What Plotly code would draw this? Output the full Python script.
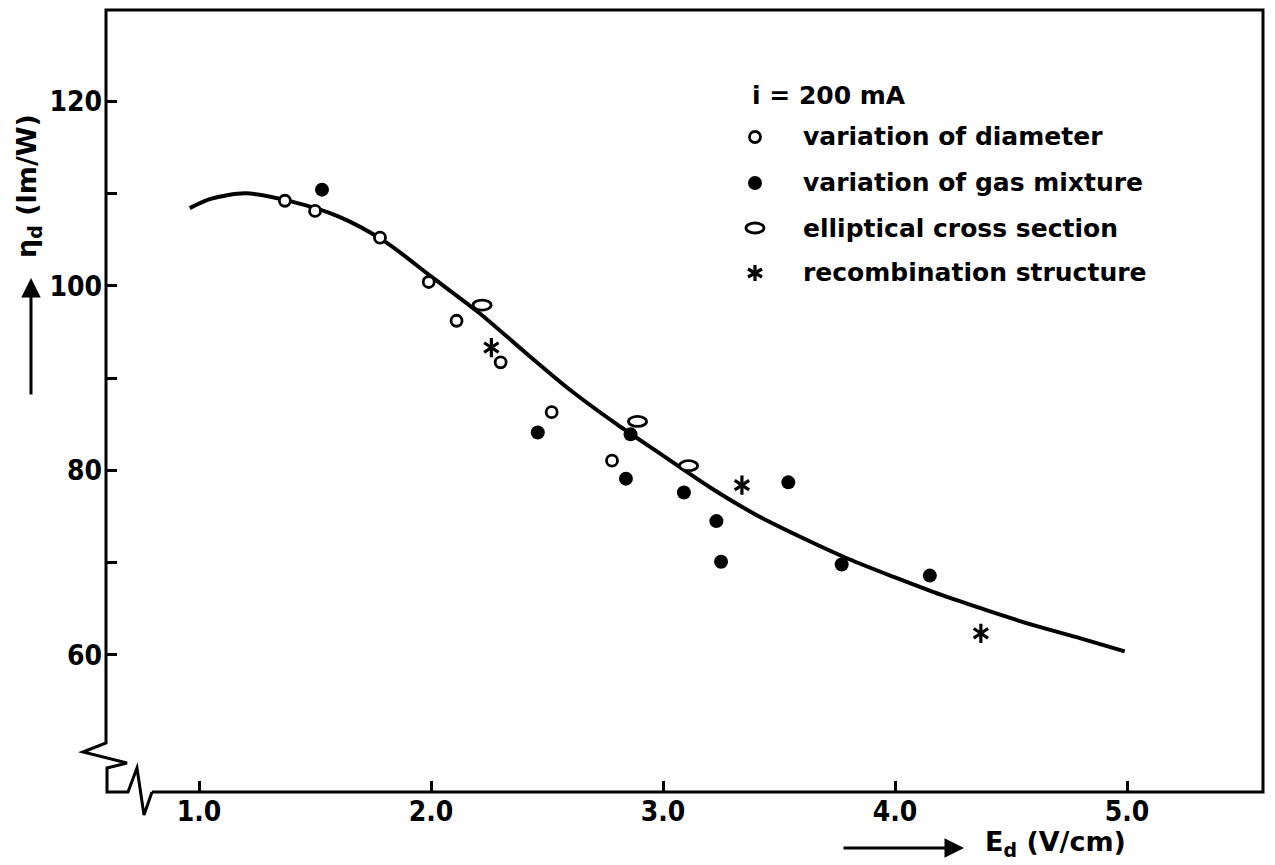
import plotly.graph_objects as go

# ---------------- data ----------------
curve_x = [0.96, 1.05, 1.20, 1.40, 1.60, 1.80, 2.00, 2.20, 2.40, 2.60, 2.80, 3.00, 3.20, 3.40,
           3.60, 3.80, 4.00, 4.20, 4.40, 4.60, 4.80, 4.99]
curve_y = [108.4, 109.4, 110.0, 109.1, 107.5, 104.8, 101.0, 97.2, 92.9, 88.7, 85.0, 81.6, 78.2, 75.2,
           72.7, 70.4, 68.4, 66.5, 64.8, 63.2, 61.8, 60.4]

diam_x = [1.37, 1.50, 1.78, 1.99, 2.11, 2.30, 2.52, 2.78]
diam_y = [109.2, 108.1, 105.2, 100.4, 96.2, 91.7, 86.3, 81.05]

gas_x = [1.53, 2.46, 2.86, 2.84, 3.09, 3.23, 3.25, 3.54, 3.77, 4.15]
gas_y = [110.4, 84.1, 83.9, 79.1, 77.6, 74.5, 70.1, 78.7, 69.8, 68.6]

ell_x = [2.22, 2.89, 3.11]
ell_y = [97.9, 85.3, 80.5]

rec_x = [2.26, 3.34, 4.37]
rec_y = [93.3, 78.4, 62.35]

x_ticks = [1, 2, 3, 4, 5]
x_ticktext = ["1.0", "2.0", "3.0", "4.0", "5.0"]
y_ticks = [60, 70, 80, 90, 100, 110, 120]
y_ticktext = ["60", "", "80", "", "100", "", "120"]

legend_title = "i = 200 mA"
legend_labels = ["variation of diameter", "variation of gas mixture",
                 "elliptical cross section", "recombination structure"]

X_RANGE = [0.599, 5.586]
Y_RANGE = [45.16, 129.86]

# ---------------- layout geometry (pixels, reference-page coords) ----------------
W, H = 1275, 865
OFF = 8                            # page body margin
L, R, T, B = 106, 1263, 10, 792   # plot area edges in px
PW, PH = R - L, B - T


def px(x):
    return (x - L) / PW


def py(y):
    return (B - y) / PH


TEXT_FONT = "DejaVu Sans"
TICK_FONT = "Liberation Sans Narrow, DejaVu Sans Condensed, DejaVu Sans"

fig = go.Figure()

fig.add_trace(go.Scatter(x=curve_x, y=curve_y, mode="lines",
                         line=dict(color="black", width=4, shape="spline", smoothing=0.8),
                         hoverinfo="skip", showlegend=False))

fig.add_trace(go.Scatter(x=gas_x, y=gas_y, mode="markers",
                         marker=dict(symbol="circle", size=14, color="black",
                                     line=dict(width=0)),
                         showlegend=False))

fig.add_trace(go.Scatter(x=diam_x, y=diam_y, mode="markers",
                         marker=dict(symbol="circle", size=11, color="white",
                                     line=dict(width=2.8, color="black")),
                         showlegend=False))

for sym in ["y-up-open", "y-down-open"]:
    fig.add_trace(go.Scatter(x=rec_x, y=rec_y, mode="markers",
                             marker=dict(symbol=sym, size=12, color="black",
                                         line=dict(width=3.2, color="black")),
                             showlegend=False))

shapes = []
# elliptical markers anchored at data points
for ex, ey in zip(ell_x, ell_y):
    shapes.append(dict(type="circle", xref="x", yref="y", xsizemode="pixel", ysizemode="pixel",
                       xanchor=ex, yanchor=ey, x0=-9, x1=9, y0=-5, y1=5,
                       fillcolor="white", line=dict(color="black", width=2.8), layer="above"))

# frame with axis breaks
frame_pts = [(152, 792), (1263, 792), (1263, 10), (106, 10), (106, 743), (83, 752),
             (127, 763), (107, 768), (107, 792), (128, 792), (137, 768), (144, 815), (152, 792)]
path = "M " + " L ".join(f"{px(a):.5f},{py(b):.5f}" for a, b in frame_pts)
shapes.append(dict(type="path", xref="paper", yref="paper", path=path,
                   line=dict(color="black", width=3), layer="above"))

# legend glyphs
LX = 755
rows = [137, 183, 228, 273]
shapes.append(dict(type="circle", xref="paper", yref="paper", xsizemode="pixel", ysizemode="pixel",
                   xanchor=px(LX), yanchor=py(rows[0]), x0=-5.5, x1=5.5, y0=-5.5, y1=5.5,
                   fillcolor="white", line=dict(color="black", width=2.8)))
shapes.append(dict(type="circle", xref="paper", yref="paper", xsizemode="pixel", ysizemode="pixel",
                   xanchor=px(LX), yanchor=py(rows[1]), x0=-7, x1=7, y0=-7, y1=7,
                   fillcolor="black", line=dict(color="black", width=0)))
shapes.append(dict(type="circle", xref="paper", yref="paper", xsizemode="pixel", ysizemode="pixel",
                   xanchor=px(LX), yanchor=py(rows[2]), x0=-9, x1=9, y0=-5, y1=5,
                   fillcolor="white", line=dict(color="black", width=2.8)))
star = "M 0,-8 L 0,8 M -7,-4 L 7,4 M -7,4 L 7,-4"
shapes.append(dict(type="path", xref="paper", yref="paper", xsizemode="pixel", ysizemode="pixel",
                   xanchor=px(LX), yanchor=py(rows[3]), path=star,
                   line=dict(color="black", width=3.2)))

annotations = []
annotations.append(dict(text=legend_title, xref="paper", yref="paper", x=px(750), y=py(95),
                        xanchor="left", yanchor="middle", showarrow=False,
                        font=dict(family=TEXT_FONT, size=25, color="black", weight="bold")))
for lab, ry in zip(legend_labels, rows):
    annotations.append(dict(text=lab, xref="paper", yref="paper", x=px(801), y=py(ry),
                            xanchor="left", yanchor="middle", showarrow=False,
                            font=dict(family=TEXT_FONT, size=25, color="black", weight="bold")))

# axis titles
annotations.append(dict(text="η<sub>d</sub> (lm/W)", xref="paper", yref="paper",
                        x=px(28), y=py(186), textangle=-90, showarrow=False,
                        xanchor="center", yanchor="middle",
                        font=dict(family=TEXT_FONT, size=27, color="black", weight="bold")))
annotations.append(dict(text="", xref="paper", yref="paper", x=px(31), y=py(278),
                        ax=0, ay=118, showarrow=True, arrowhead=2, arrowsize=1.3,
                        arrowwidth=3, arrowcolor="black"))
annotations.append(dict(text="E<sub>d</sub> (V/cm)", xref="paper", yref="paper",
                        x=px(983), y=py(843), xanchor="left", yanchor="middle", showarrow=False,
                        font=dict(family=TEXT_FONT, size=27, color="black", weight="bold")))
annotations.append(dict(text="", xref="paper", yref="paper", x=px(964), y=py(848),
                        ax=-122, ay=0, showarrow=True, arrowhead=2, arrowsize=1.3,
                        arrowwidth=3, arrowcolor="black"))

fig.update_layout(
    width=W - OFF, height=H - OFF,
    margin=dict(l=L - OFF, r=W - R, t=T - OFF, b=H - B, pad=0),
    paper_bgcolor="white", plot_bgcolor="white",
    showlegend=False,
    shapes=shapes, annotations=annotations,
    xaxis=dict(range=X_RANGE, showgrid=False, zeroline=False, showline=False,
               tickmode="array", tickvals=x_ticks, ticktext=x_ticktext,
               ticks="inside", ticklen=11, tickwidth=2.5, tickcolor="black",
               tickfont=dict(family=TICK_FONT, size=28, color="black", weight="bold")),
    yaxis=dict(range=Y_RANGE, showgrid=False, zeroline=False, showline=False,
               tickmode="array", tickvals=y_ticks, ticktext=y_ticktext,
               ticks="inside", ticklen=11, tickwidth=2.5, tickcolor="black",
               ticklabelstandoff=3,
               tickfont=dict(family=TICK_FONT, size=28, color="black", weight="bold")),
)

fig.write_html("out.html")
